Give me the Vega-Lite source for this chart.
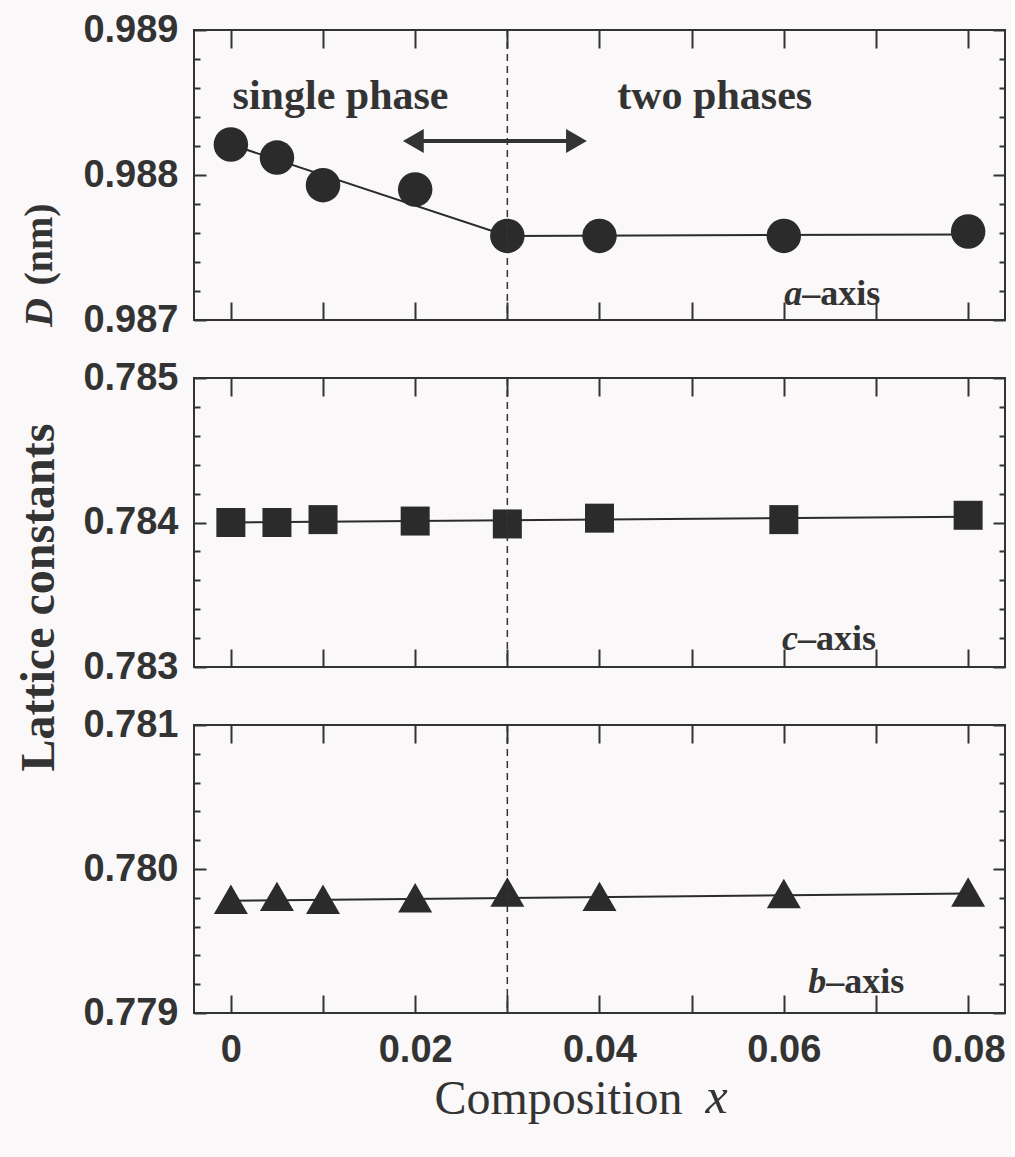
{
  "$schema": "https://vega.github.io/schema/vega-lite/v6.json",
  "background": "#faf8f8",
  "padding": {"left": 14, "top": 10, "right": 5, "bottom": 40},
  "bounds": "flush",
  "spacing": 58,
  "config": {
    "view": {"stroke": "#333333", "strokeWidth": 2},
    "axis": {
      "labelFont": "Liberation Sans", "labelFontWeight": "bold", "labelFontSize": 38, "labelColor": "#333333",
      "tickColor": "#333333", "tickWidth": 2, "domain": false, "grid": false,
      "titleFont": "Liberation Serif", "titleFontWeight": "bold", "titleFontSize": 40, "titleColor": "#333333"
    },
    "text": {"font": "Liberation Serif", "fontWeight": "bold", "fontSize": 42, "color": "#333333", "baseline": "middle"}
  },
  "datasets": {
    "a": [
      {"x": 0, "y": 0.98821}, {"x": 0.005, "y": 0.98812}, {"x": 0.01, "y": 0.98793}, {"x": 0.02, "y": 0.98790},
      {"x": 0.03, "y": 0.98758}, {"x": 0.04, "y": 0.98758}, {"x": 0.06, "y": 0.98758}, {"x": 0.08, "y": 0.98761}
    ],
    "aFit": [{"x": 0, "y": 0.98821}, {"x": 0.03, "y": 0.98758}, {"x": 0.08, "y": 0.98759}],
    "c": [
      {"x": 0, "y": 0.78400}, {"x": 0.005, "y": 0.78400}, {"x": 0.01, "y": 0.78402}, {"x": 0.02, "y": 0.78401},
      {"x": 0.03, "y": 0.78399}, {"x": 0.04, "y": 0.78403}, {"x": 0.06, "y": 0.78402}, {"x": 0.08, "y": 0.78405}
    ],
    "cFit": [{"x": 0, "y": 0.78400}, {"x": 0.08, "y": 0.78404}],
    "b": [
      {"x": 0, "y": 0.77979}, {"x": 0.005, "y": 0.77981}, {"x": 0.01, "y": 0.77979}, {"x": 0.02, "y": 0.77980},
      {"x": 0.03, "y": 0.77984}, {"x": 0.04, "y": 0.77981}, {"x": 0.06, "y": 0.77983}, {"x": 0.08, "y": 0.77984}
    ],
    "bFit": [{"x": 0, "y": 0.77978}, {"x": 0.08, "y": 0.77983}],
    "boundary": [{"x": 0.03}]
  },
  "vconcat": [
    {
      "width": 811, "height": 290,
      "resolve": {"axis": {"x": "independent", "y": "independent"}},
      "layer": [
        {
          "data": {"name": "aFit"},
          "mark": {"type": "line", "color": "#2b2b2b", "strokeWidth": 2},
          "encoding": {
            "x": {"field": "x", "type": "quantitative", "scale": {"domain": [-0.004, 0.084], "nice": false, "zero": false},
                  "axis": {"orient": "bottom", "values": [0, 0.01, 0.02, 0.03, 0.04, 0.05, 0.06, 0.07, 0.08], "tickSize": -18, "labels": false, "title": null}},
            "y": {"field": "y", "type": "quantitative", "scale": {"domain": [0.987, 0.989], "nice": false, "zero": false},
                  "axis": {"orient": "left", "values": [0.987, 0.988, 0.989], "format": ".3f", "tickSize": -12, "labelPadding": 28,
                           "title": "(nm)", "titleAngle": 270, "titleX": -155, "titleY": 214, "titleAlign": "center", "titleBaseline": "middle"}}
          }
        },
        {
          "data": {"name": "a"},
          "mark": {"type": "point", "shape": "circle", "filled": true, "size": 1190, "color": "#2b2b2b", "opacity": 1},
          "encoding": {
            "x": {"field": "x", "type": "quantitative", "axis": {"orient": "top", "values": [0, 0.01, 0.02, 0.03, 0.04, 0.05, 0.06, 0.07, 0.08], "tickSize": -18, "labels": false, "title": null}},
            "y": {"field": "y", "type": "quantitative", "axis": {"orient": "right", "values": [0.987, 0.988, 0.989], "tickSize": -12, "labels": false, "title": null}}
          }
        },
        {
          "data": {"name": "a"},
          "mark": {"type": "point", "opacity": 0},
          "encoding": {
            "x": {"field": "x", "type": "quantitative", "axis": null},
            "y": {"field": "y", "type": "quantitative", "axis": {"orient": "left", "values": [0.9872, 0.9874, 0.9876, 0.9878, 0.9882, 0.9884, 0.9886, 0.9888], "tickSize": -6, "labels": false,
                  "title": "D", "titleFontStyle": "italic", "titleAngle": 270, "titleX": -155, "titleY": 282, "titleAlign": "center", "titleBaseline": "middle"}}
          }
        },
        {
          "data": {"name": "a"},
          "mark": {"type": "point", "opacity": 0},
          "encoding": {
            "x": {"field": "x", "type": "quantitative", "axis": null},
            "y": {"field": "y", "type": "quantitative", "axis": {"orient": "right", "values": [0.9872, 0.9874, 0.9876, 0.9878, 0.9882, 0.9884, 0.9886, 0.9888], "tickSize": -6, "labels": false, "title": null}}
          }
        },
        {
          "data": {"name": "boundary"},
          "mark": {"type": "rule", "color": "#333333", "strokeWidth": 1.5, "strokeDash": [7, 5]},
          "encoding": {"x": {"field": "x", "type": "quantitative", "axis": null}}
        },
        {
          "data": {"values": [{"x": 0.0119, "y": 0.988545, "t": "single phase"}, {"x": 0.0525, "y": 0.988545, "t": "two phases"}]},
          "mark": {"type": "text", "align": "center"},
          "encoding": {
            "x": {"field": "x", "type": "quantitative", "axis": null},
            "y": {"field": "y", "type": "quantitative", "axis": null},
            "text": {"field": "t"}
          }
        },
        {
          "data": {"values": [{"x": 0.0620, "y": 0.98718, "t": "a"}]},
          "mark": {"type": "text", "align": "right", "fontStyle": "italic", "fontSize": 36},
          "encoding": {
            "x": {"field": "x", "type": "quantitative", "axis": null},
            "y": {"field": "y", "type": "quantitative", "axis": null},
            "text": {"field": "t"}
          }
        },
        {
          "data": {"values": [{"x": 0.0620, "y": 0.98718, "t": "–axis"}]},
          "mark": {"type": "text", "align": "left", "fontSize": 36},
          "encoding": {
            "x": {"field": "x", "type": "quantitative", "axis": null},
            "y": {"field": "y", "type": "quantitative", "axis": null},
            "text": {"field": "t"}
          }
        },
        {
          "data": {"values": [{"x": 0.0198, "x2": 0.0375, "y": 0.988234}]},
          "mark": {"type": "rule", "color": "#333333", "strokeWidth": 4},
          "encoding": {
            "x": {"field": "x", "type": "quantitative", "axis": null},
            "x2": {"field": "x2"},
            "y": {"field": "y", "type": "quantitative", "axis": null}
          }
        },
        {
          "data": {"values": [{"x": 0.0198, "y": 0.988234, "dir": "left"}, {"x": 0.0375, "y": 0.988234, "dir": "right"}]},
          "mark": {"type": "point", "filled": true, "size": 576, "color": "#333333", "opacity": 1},
          "encoding": {
            "x": {"field": "x", "type": "quantitative", "axis": null},
            "y": {"field": "y", "type": "quantitative", "axis": null},
            "shape": {"field": "dir", "type": "nominal", "scale": {"domain": ["left", "right"], "range": ["triangle-left", "triangle-right"]}, "legend": null}
          }
        }
      ]
    },
    {
      "width": 811, "height": 289,
      "resolve": {"axis": {"x": "independent", "y": "independent"}},
      "layer": [
        {
          "data": {"name": "cFit"},
          "mark": {"type": "line", "color": "#2b2b2b", "strokeWidth": 2},
          "encoding": {
            "x": {"field": "x", "type": "quantitative", "scale": {"domain": [-0.004, 0.084], "nice": false, "zero": false},
                  "axis": {"orient": "bottom", "values": [0, 0.01, 0.02, 0.03, 0.04, 0.05, 0.06, 0.07, 0.08], "tickSize": -18, "labels": false, "title": null}},
            "y": {"field": "y", "type": "quantitative", "scale": {"domain": [0.783, 0.785], "nice": false, "zero": false},
                  "axis": {"orient": "left", "values": [0.783, 0.784, 0.785], "format": ".3f", "tickSize": -12, "labelPadding": 28,
                           "title": "Lattice constants", "titleFontSize": 48, "titleAngle": 270, "titleX": -155, "titleY": 219, "titleAlign": "center", "titleBaseline": "middle"}}
          }
        },
        {
          "data": {"name": "c"},
          "mark": {"type": "point", "shape": "square", "filled": true, "size": 841, "color": "#2b2b2b", "opacity": 1},
          "encoding": {
            "x": {"field": "x", "type": "quantitative", "axis": {"orient": "top", "values": [0, 0.01, 0.02, 0.03, 0.04, 0.05, 0.06, 0.07, 0.08], "tickSize": -18, "labels": false, "title": null}},
            "y": {"field": "y", "type": "quantitative", "axis": {"orient": "right", "values": [0.783, 0.784, 0.785], "tickSize": -12, "labels": false, "title": null}}
          }
        },
        {
          "data": {"name": "c"},
          "mark": {"type": "point", "opacity": 0},
          "encoding": {
            "x": {"field": "x", "type": "quantitative", "axis": null},
            "y": {"field": "y", "type": "quantitative", "axis": {"orient": "left", "values": [0.7832, 0.7834, 0.7836, 0.7838, 0.7842, 0.7844, 0.7846, 0.7848], "tickSize": -6, "labels": false, "title": null}}
          }
        },
        {
          "data": {"name": "c"},
          "mark": {"type": "point", "opacity": 0},
          "encoding": {
            "x": {"field": "x", "type": "quantitative", "axis": null},
            "y": {"field": "y", "type": "quantitative", "axis": {"orient": "right", "values": [0.7832, 0.7834, 0.7836, 0.7838, 0.7842, 0.7844, 0.7846, 0.7848], "tickSize": -6, "labels": false, "title": null}}
          }
        },
        {
          "data": {"name": "boundary"},
          "mark": {"type": "rule", "color": "#333333", "strokeWidth": 1.5, "strokeDash": [7, 5]},
          "encoding": {"x": {"field": "x", "type": "quantitative", "axis": null}}
        },
        {
          "data": {"values": [{"x": 0.06155, "y": 0.783194, "t": "c"}]},
          "mark": {"type": "text", "align": "right", "fontStyle": "italic", "fontSize": 36},
          "encoding": {
            "x": {"field": "x", "type": "quantitative", "axis": null},
            "y": {"field": "y", "type": "quantitative", "axis": null},
            "text": {"field": "t"}
          }
        },
        {
          "data": {"values": [{"x": 0.06155, "y": 0.783194, "t": "–axis"}]},
          "mark": {"type": "text", "align": "left", "fontSize": 36},
          "encoding": {
            "x": {"field": "x", "type": "quantitative", "axis": null},
            "y": {"field": "y", "type": "quantitative", "axis": null},
            "text": {"field": "t"}
          }
        }
      ]
    },
    {
      "width": 811, "height": 288,
      "resolve": {"axis": {"x": "independent", "y": "independent"}},
      "layer": [
        {
          "data": {"name": "bFit"},
          "mark": {"type": "line", "color": "#2b2b2b", "strokeWidth": 2},
          "encoding": {
            "x": {"field": "x", "type": "quantitative", "scale": {"domain": [-0.004, 0.084], "nice": false, "zero": false},
                  "axis": {"orient": "bottom", "values": [0, 0.01, 0.02, 0.03, 0.04, 0.05, 0.06, 0.07, 0.08], "tickSize": -18, "labels": true,
                           "format": ".2~f", "labelExpr": "round(datum.value * 100) % 2 == 0 ? datum.label : ''", "labelPadding": 36,
                           "title": "Composition", "titleFontWeight": "normal", "titleFontSize": 48, "titleX": 364, "titleY": 86, "titleAlign": "center", "titleBaseline": "middle", "titleAngle": 0}},
            "y": {"field": "y", "type": "quantitative", "scale": {"domain": [0.779, 0.781], "nice": false, "zero": false},
                  "axis": {"orient": "left", "values": [0.779, 0.780, 0.781], "format": ".3f", "tickSize": -12, "labelPadding": 28, "title": null}}
          }
        },
        {
          "data": {"name": "b"},
          "mark": {"type": "point", "shape": "triangle-up", "filled": true, "size": 1156, "color": "#2b2b2b", "opacity": 1},
          "encoding": {
            "x": {"field": "x", "type": "quantitative", "axis": {"orient": "top", "values": [0, 0.01, 0.02, 0.03, 0.04, 0.05, 0.06, 0.07, 0.08], "tickSize": -18, "labels": false, "title": null}},
            "y": {"field": "y", "type": "quantitative", "axis": {"orient": "right", "values": [0.779, 0.780, 0.781], "tickSize": -12, "labels": false, "title": null}}
          }
        },
        {
          "data": {"name": "b"},
          "mark": {"type": "point", "opacity": 0},
          "encoding": {
            "x": {"field": "x", "type": "quantitative", "axis": {"orient": "bottom", "ticks": false, "labels": false, "title": "x", "titleFontStyle": "italic", "titleFontWeight": "normal", "titleFontSize": 50,
                  "titleX": 522, "titleY": 84, "titleAlign": "center", "titleBaseline": "middle", "titleAngle": 0}},
            "y": {"field": "y", "type": "quantitative", "axis": {"orient": "left", "values": [0.7792, 0.7794, 0.7796, 0.7798, 0.7802, 0.7804, 0.7806, 0.7808], "tickSize": -6, "labels": false, "title": null}}
          }
        },
        {
          "data": {"name": "b"},
          "mark": {"type": "point", "opacity": 0},
          "encoding": {
            "x": {"field": "x", "type": "quantitative", "axis": null},
            "y": {"field": "y", "type": "quantitative", "axis": {"orient": "right", "values": [0.7792, 0.7794, 0.7796, 0.7798, 0.7802, 0.7804, 0.7806, 0.7808], "tickSize": -6, "labels": false, "title": null}}
          }
        },
        {
          "data": {"name": "boundary"},
          "mark": {"type": "rule", "color": "#333333", "strokeWidth": 1.5, "strokeDash": [7, 5]},
          "encoding": {"x": {"field": "x", "type": "quantitative", "axis": null}}
        },
        {
          "data": {"values": [{"x": 0.0646, "y": 0.779215, "t": "b"}]},
          "mark": {"type": "text", "align": "right", "fontStyle": "italic", "fontSize": 36},
          "encoding": {
            "x": {"field": "x", "type": "quantitative", "axis": null},
            "y": {"field": "y", "type": "quantitative", "axis": null},
            "text": {"field": "t"}
          }
        },
        {
          "data": {"values": [{"x": 0.0646, "y": 0.779215, "t": "–axis"}]},
          "mark": {"type": "text", "align": "left", "fontSize": 36},
          "encoding": {
            "x": {"field": "x", "type": "quantitative", "axis": null},
            "y": {"field": "y", "type": "quantitative", "axis": null},
            "text": {"field": "t"}
          }
        }
      ]
    }
  ]
}
